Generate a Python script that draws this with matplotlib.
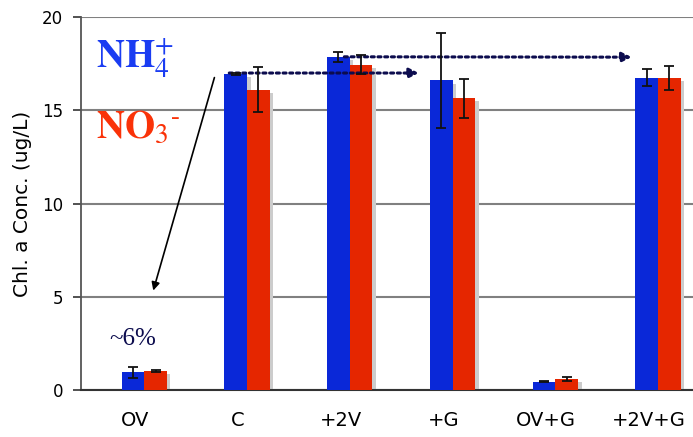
import numpy as np
import matplotlib.pyplot as plt

# data
categories = ['OV', 'C', '+2V', '+G', 'OV+G', '+2V+G']
nh4 = [0.97, 16.95, 17.85, 16.6, 0.45, 16.75]
nh4_err = [0.3, 0.05, 0.25, 2.55, 0.03, 0.45]
no3 = [1.03, 16.1, 17.45, 15.65, 0.6, 16.75]
no3_err = [0.03, 1.2, 0.5, 1.05, 0.12, 0.65]

blue = '#0a28d8'
red = '#e52600'
navy = '#0c0c4e'

plt.rcParams['mathtext.fontset'] = 'stix'

fig = plt.figure(figsize=(6.93, 4.37), dpi=100)
ax = fig.add_axes([0.117, 0.107, 0.883, 0.854])

x = np.arange(len(categories))
w = 0.22
dx, dy = 0.035, 0.17  # drop shadow offset

# shadows
ax.bar(x - w / 2 + dx, np.array(nh4) - dy, w, color='#cccccc', zorder=2)
ax.bar(x + w / 2 + dx, np.array(no3) - dy, w, color='#cccccc', zorder=2)

ax.bar(x - w / 2, nh4, w, color=blue, zorder=3)
ax.bar(x + w / 2, no3, w, color=red, zorder=3)
ax.errorbar(x - w / 2, nh4, yerr=nh4_err, fmt='none', ecolor='#111111',
            elinewidth=1.3, capsize=3.5, capthick=1.3, zorder=4)
ax.errorbar(x + w / 2, no3, yerr=no3_err, fmt='none', ecolor='#111111',
            elinewidth=1.3, capsize=3.5, capthick=1.3, zorder=4)

ax.set_ylim(0, 20)
ax.set_xlim(-0.615, 5.34)
ax.set_yticks([0, 5, 10, 15, 20])
ax.yaxis.grid(True, color='#808080', linewidth=1.5)
ax.set_axisbelow(True)
ax.set_xticks(x - w / 2 + 0.02)
ax.set_xticklabels(categories, fontsize=14)
ax.tick_params(axis='y', labelsize=12, length=6, width=1.2, color='#333333',
               pad=7)
ax.tick_params(axis='x', length=0, pad=15)
ax.set_ylabel('Chl. a Conc. (ug/L)', fontsize=14.5, labelpad=7)

for s in ['top', 'right']:
    ax.spines[s].set_visible(False)
ax.spines['left'].set_color('#555555')
ax.spines['left'].set_linewidth(1.3)
ax.spines['bottom'].set_color('#333333')
ax.spines['bottom'].set_linewidth(1.5)

# ion labels
ax.text(-0.47, 17.3, r'$\mathbf{NH}_{\mathrm{4}}^{+}$', color='#1a3cf2',
        fontsize=28, ha='left', va='baseline')
ax.text(-0.47, 13.5, r'$\mathbf{NO}_{\mathrm{3}}{}^{\mathbf{\text{-}}}$',
        color='#fa3208', fontsize=28, ha='left', va='baseline')
ax.text(-0.11, 2.4, '~6%', color=navy, fontsize=18,
        family='Liberation Serif', ha='center', va='baseline')

# arrows
ax.annotate('', xy=(0.08, 5.2), xytext=(0.69, 16.9),
            arrowprops=dict(arrowstyle='-|>', color='black', lw=1.2,
                            mutation_scale=12))
ax.annotate('', xy=(2.7, 17.0), xytext=(0.8, 17.0),
            arrowprops=dict(arrowstyle='-|>', color=navy, lw=2.2,
                            linestyle=(0, (1, 1.2)), mutation_scale=14))
ax.annotate('', xy=(4.77, 17.85), xytext=(1.92, 17.87),
            arrowprops=dict(arrowstyle='-|>', color=navy, lw=2.2,
                            linestyle=(0, (1, 1.2)), mutation_scale=14))

fig.savefig('out.png', dpi=100)
